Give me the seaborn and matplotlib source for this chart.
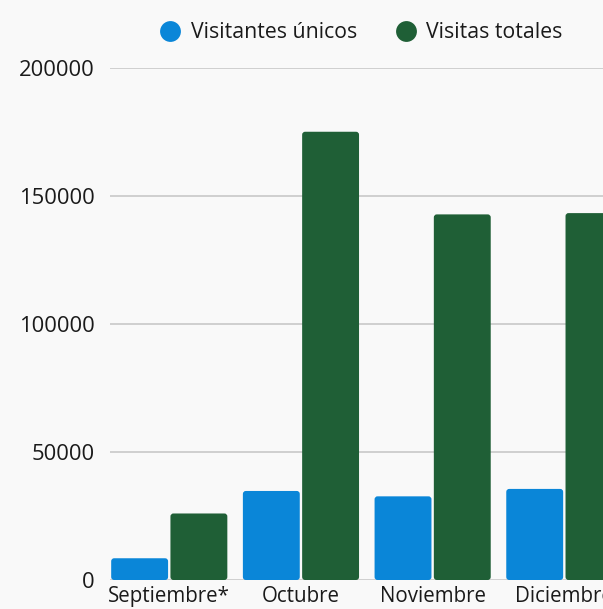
import matplotlib
matplotlib.use("Agg")
import matplotlib.pyplot as plt
import seaborn as sns
import pandas as pd
from matplotlib.lines import Line2D
from matplotlib.patches import FancyBboxPatch

months = ["Septiembre*", "Octubre", "Noviembre", "Diciembre"]
series_names = ["Visitantes únicos", "Visitas totales"]
unique_visitors = [8500, 34800, 32700, 35600]
total_visits = [26000, 175200, 142900, 143400]
y_ticks = [0, 50000, 100000, 150000, 200000]
colors = ["#0A86D8", "#1F5F36"]
bg = "#F9F9F9"

df = pd.DataFrame({
    "mes": months * 2,
    "serie": [series_names[0]] * len(months) + [series_names[1]] * len(months),
    "valor": unique_visitors + total_visits,
})

sns.set_theme(style="white")
plt.rcParams["font.family"] = ["Open Sans", "DejaVu Sans"]

fig = plt.figure(figsize=(6.03, 6.09), dpi=100, facecolor=bg)
W, H = 603, 609
left, right = 110, 623.6
bottom, top = 580, 68.3
ax = fig.add_axes([left / W, 1 - bottom / H, (right - left) / W, (bottom - top) / H])
ax.set_facecolor(bg)

sns.barplot(data=df, x="mes", y="valor", hue="serie", palette=colors,
            width=0.9, gap=0.04, ax=ax, legend=False, saturation=1,
            edgecolor="none", linewidth=0)

# rounded top corners
ppx = 131.7  # px per category
ppy = (bottom - top) / 200000
r_x = 3.0 / ppx
aspect = (3.0 / ppy) / r_x
for p in list(ax.patches):
    x0, y0 = p.get_x(), p.get_y()
    w, h = p.get_width(), p.get_height()
    fb = FancyBboxPatch((x0, y0), w, h,
                        boxstyle=f"round,pad=0,rounding_size={r_x}",
                        mutation_aspect=aspect,
                        facecolor=p.get_facecolor(), edgecolor="none",
                        linewidth=0, zorder=3)
    p.remove()
    ax.add_patch(fb)

ax.set_xlim(-0.45, 3.45)
ax.set_ylim(0, 200000)
ax.set_yticks(y_ticks)
ax.set_yticklabels([str(v) for v in y_ticks])
ax.yaxis.grid(True, color="#C8C8C8", linewidth=1.2, zorder=0)
ax.set_axisbelow(True)
for s in ax.spines.values():
    s.set_visible(False)
ax.tick_params(axis="y", length=0, pad=11, labelsize=15.8, labelcolor="#1a1a1a")
ax.tick_params(axis="x", length=0, pad=4.5, labelsize=14.8, labelcolor="#1a1a1a")
ax.set_xlabel("")
ax.set_ylabel("")

handles = [Line2D([0], [0], marker="o", linestyle="none", markersize=15,
                  markerfacecolor=c, markeredgecolor="none") for c in colors]
fig.legend(handles, series_names, loc="center", bbox_to_anchor=(361 / W, 1 - 33 / H),
           ncol=2, frameon=False, fontsize=15.3, handletextpad=0.45,
           columnspacing=1.8, handlelength=1.0, labelcolor="#1a1a1a")

fig.savefig("out.png", dpi=100, facecolor=bg)
